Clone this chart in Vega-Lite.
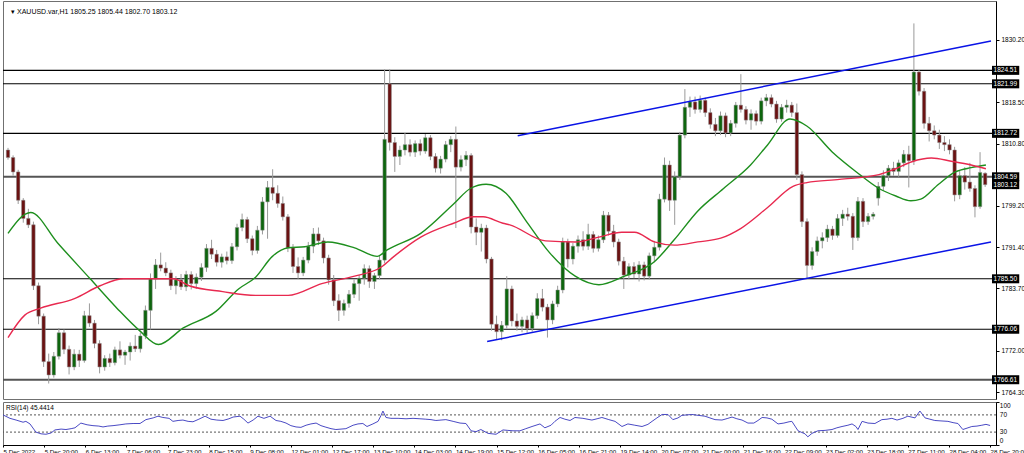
{
  "$schema": "https://vega.github.io/schema/vega-lite/v6.json",
  "padding": 0,
  "spacing": 1,
  "background": "white",
  "config": {
    "view": {"stroke": "#707070", "strokeWidth": 1},
    "font": "Liberation Sans",
    "axis": {"labelFont": "Liberation Sans", "labelFontSize": 6.5, "labelColor": "#000000", "tickColor": "#000000", "domainColor": "#000000", "grid": false, "title": null}
  },
  "datasets": {
    "levels": [{"p": 1824.51}, {"p": 1821.99}, {"p": 1812.72}, {"p": 1804.59}, {"p": 1785.50}, {"p": 1776.06}, {"p": 1766.61}],
    "tags": [{"p": 1824.51}, {"p": 1821.99}, {"p": 1812.72}, {"p": 1804.59}, {"p": 1803.12}, {"p": 1785.50}, {"p": 1776.06}, {"p": 1766.61}],
    "rsiscale": [{"v": 100}, {"v": 70}, {"v": 30}, {"v": 0}],
    "trend": [
      {"id": "upper", "b": 200.3, "p": 1812.28}, {"id": "upper", "b": 386.3, "p": 1830.0},
      {"id": "lower", "b": 188.3, "p": 1773.78}, {"id": "lower", "b": 386.3, "p": 1792.4}
    ],
    "ma": [
      {"s": "fast", "b": 0, "p": 1794.0}, {"s": "fast", "b": 8.9, "p": 1797.9}, {"s": "fast", "b": 19.5, "p": 1792.2}, {"s": "fast", "b": 32.3, "p": 1785.5}, {"s": "fast", "b": 42.8, "p": 1780.0}, {"s": "fast", "b": 51.7, "p": 1775.8}, {"s": "fast", "b": 59.1, "p": 1773.2}, {"s": "fast", "b": 68.9, "p": 1776.3}, {"s": "fast", "b": 81.7, "p": 1779.4}, {"s": "fast", "b": 90.6, "p": 1783.6}, {"s": "fast", "b": 97.3, "p": 1785.8}, {"s": "fast", "b": 103.9, "p": 1789.7}, {"s": "fast", "b": 110.1, "p": 1791.3}, {"s": "fast", "b": 116.7, "p": 1791.5}, {"s": "fast", "b": 125.7, "p": 1792.4}, {"s": "fast", "b": 136.2, "p": 1791.3}, {"s": "fast", "b": 145.1, "p": 1789.7}, {"s": "fast", "b": 149, "p": 1790.9}, {"s": "fast", "b": 162.2, "p": 1794.0}, {"s": "fast", "b": 175.1, "p": 1799.5}, {"s": "fast", "b": 181.7, "p": 1802.4}, {"s": "fast", "b": 187.9, "p": 1803.2}, {"s": "fast", "b": 195.7, "p": 1801.5}, {"s": "fast", "b": 203.5, "p": 1796.4}, {"s": "fast", "b": 212.8, "p": 1790.4}, {"s": "fast", "b": 222.9, "p": 1786.0}, {"s": "fast", "b": 232.2, "p": 1784.4}, {"s": "fast", "b": 242.3, "p": 1786.0}, {"s": "fast", "b": 254, "p": 1788.7}, {"s": "fast", "b": 261.8, "p": 1792.8}, {"s": "fast", "b": 271.1, "p": 1798.2}, {"s": "fast", "b": 281.2, "p": 1802.4}, {"s": "fast", "b": 291.8, "p": 1806.8}, {"s": "fast", "b": 298.4, "p": 1810.5}, {"s": "fast", "b": 307.3, "p": 1815.4}, {"s": "fast", "b": 313.9, "p": 1814.1}, {"s": "fast", "b": 324, "p": 1809.2}, {"s": "fast", "b": 333.4, "p": 1805.5}, {"s": "fast", "b": 342.3, "p": 1802.4}, {"s": "fast", "b": 348.9, "p": 1801.0}, {"s": "fast", "b": 354.8, "p": 1800.1}, {"s": "fast", "b": 358.7, "p": 1800.4}, {"s": "fast", "b": 365.7, "p": 1803.2}, {"s": "fast", "b": 372.3, "p": 1805.5}, {"s": "fast", "b": 378.5, "p": 1806.3}, {"s": "fast", "b": 384.3, "p": 1806.8},
      {"s": "slow", "b": 0, "p": 1774.5}, {"s": "slow", "b": 6.6, "p": 1778.7}, {"s": "slow", "b": 12.8, "p": 1780.0}, {"s": "slow", "b": 26.1, "p": 1781.8}, {"s": "slow", "b": 36.2, "p": 1784.2}, {"s": "slow", "b": 45.5, "p": 1785.5}, {"s": "slow", "b": 65, "p": 1785.5}, {"s": "slow", "b": 71.2, "p": 1784.2}, {"s": "slow", "b": 84.4, "p": 1783.1}, {"s": "slow", "b": 97.3, "p": 1782.4}, {"s": "slow", "b": 110.1, "p": 1782.4}, {"s": "slow", "b": 123.3, "p": 1784.6}, {"s": "slow", "b": 136.2, "p": 1786.0}, {"s": "slow", "b": 146.7, "p": 1787.7}, {"s": "slow", "b": 151.7, "p": 1789.7}, {"s": "slow", "b": 162.2, "p": 1793.3}, {"s": "slow", "b": 175.1, "p": 1795.9}, {"s": "slow", "b": 182.8, "p": 1797.1}, {"s": "slow", "b": 186.7, "p": 1797.1}, {"s": "slow", "b": 194.5, "p": 1795.9}, {"s": "slow", "b": 197.2, "p": 1795.6}, {"s": "slow", "b": 211.2, "p": 1792.6}, {"s": "slow", "b": 222.9, "p": 1792.4}, {"s": "slow", "b": 232.2, "p": 1793.3}, {"s": "slow", "b": 241.2, "p": 1794.2}, {"s": "slow", "b": 246.2, "p": 1794.2}, {"s": "slow", "b": 254, "p": 1792.4}, {"s": "slow", "b": 261.8, "p": 1791.8}, {"s": "slow", "b": 271.1, "p": 1792.4}, {"s": "slow", "b": 280.1, "p": 1793.1}, {"s": "slow", "b": 287.9, "p": 1794.9}, {"s": "slow", "b": 298.4, "p": 1798.8}, {"s": "slow", "b": 308.5, "p": 1802.8}, {"s": "slow", "b": 313.9, "p": 1803.5}, {"s": "slow", "b": 326.8, "p": 1804.1}, {"s": "slow", "b": 342.3, "p": 1805.0}, {"s": "slow", "b": 348.9, "p": 1806.1}, {"s": "slow", "b": 355.2, "p": 1807.4}, {"s": "slow", "b": 362.9, "p": 1808.1}, {"s": "slow", "b": 370.7, "p": 1807.5}, {"s": "slow", "b": 378.5, "p": 1806.8}, {"s": "slow", "b": 384.3, "p": 1806.1}
    ],
    "candles": [
      {"b": 0, "o": 1809.6, "h": 1810.0, "l": 1807.8, "c": 1808.2},
      {"b": 2, "o": 1808.2, "h": 1808.6, "l": 1804.8, "c": 1805.5},
      {"b": 4, "o": 1805.5, "h": 1805.9, "l": 1799.5, "c": 1800.2},
      {"b": 6, "o": 1800.2, "h": 1800.6, "l": 1796.0, "c": 1796.8},
      {"b": 8, "o": 1796.8, "h": 1798.6, "l": 1795.0, "c": 1795.6},
      {"b": 10, "o": 1795.6, "h": 1796.2, "l": 1783.4, "c": 1784.2},
      {"b": 12, "o": 1784.2, "h": 1784.8, "l": 1777.0, "c": 1778.5},
      {"b": 14, "o": 1778.5, "h": 1779.0, "l": 1769.0, "c": 1770.0},
      {"b": 16, "o": 1770.0, "h": 1771.5, "l": 1765.9, "c": 1767.5},
      {"b": 18, "o": 1767.5, "h": 1771.8, "l": 1767.0, "c": 1771.0},
      {"b": 20, "o": 1771.0, "h": 1776.3, "l": 1770.4, "c": 1775.4},
      {"b": 22, "o": 1775.4, "h": 1776.0, "l": 1771.4, "c": 1772.3},
      {"b": 24, "o": 1772.3, "h": 1773.0, "l": 1767.6, "c": 1769.0},
      {"b": 26, "o": 1769.0, "h": 1772.3, "l": 1768.4, "c": 1771.4},
      {"b": 28, "o": 1771.4, "h": 1772.2, "l": 1769.0, "c": 1770.2},
      {"b": 30, "o": 1770.2, "h": 1779.5, "l": 1769.8, "c": 1778.6},
      {"b": 32, "o": 1778.6, "h": 1780.9, "l": 1776.5, "c": 1777.2},
      {"b": 34, "o": 1777.2, "h": 1777.8, "l": 1772.5, "c": 1773.4},
      {"b": 36, "o": 1773.4, "h": 1774.0, "l": 1767.8, "c": 1769.0},
      {"b": 38, "o": 1769.0, "h": 1771.2, "l": 1768.3, "c": 1770.6},
      {"b": 40, "o": 1770.6, "h": 1771.5, "l": 1769.0, "c": 1769.8},
      {"b": 42, "o": 1769.8, "h": 1772.8, "l": 1769.3, "c": 1772.2},
      {"b": 44, "o": 1772.2, "h": 1773.8, "l": 1770.6, "c": 1771.2},
      {"b": 46, "o": 1771.2, "h": 1772.2, "l": 1769.4, "c": 1771.8},
      {"b": 48, "o": 1771.8, "h": 1773.6, "l": 1770.2, "c": 1772.9},
      {"b": 50, "o": 1772.9, "h": 1775.0, "l": 1771.8, "c": 1772.4},
      {"b": 52, "o": 1772.4, "h": 1775.4, "l": 1771.7, "c": 1774.8},
      {"b": 54, "o": 1774.8, "h": 1780.5, "l": 1774.2, "c": 1779.6},
      {"b": 56, "o": 1779.6, "h": 1786.5, "l": 1776.0, "c": 1785.5},
      {"b": 58, "o": 1785.5, "h": 1789.2, "l": 1783.6, "c": 1788.1},
      {"b": 60, "o": 1788.1, "h": 1790.4, "l": 1786.9, "c": 1787.5},
      {"b": 62, "o": 1787.5, "h": 1788.6, "l": 1786.0, "c": 1786.6},
      {"b": 64, "o": 1786.6, "h": 1787.2, "l": 1783.4, "c": 1784.2},
      {"b": 66, "o": 1784.2, "h": 1786.0, "l": 1782.6, "c": 1785.3},
      {"b": 68, "o": 1785.3, "h": 1786.4, "l": 1783.4, "c": 1784.0},
      {"b": 70, "o": 1784.0, "h": 1787.0, "l": 1783.2, "c": 1786.3},
      {"b": 72, "o": 1786.3, "h": 1786.9, "l": 1783.5, "c": 1784.6},
      {"b": 74, "o": 1784.6, "h": 1786.5, "l": 1783.6, "c": 1785.8},
      {"b": 76, "o": 1785.8, "h": 1788.4, "l": 1785.1, "c": 1787.6},
      {"b": 78, "o": 1787.6, "h": 1792.0, "l": 1786.8, "c": 1791.2},
      {"b": 80, "o": 1791.2, "h": 1792.8, "l": 1789.2, "c": 1790.1},
      {"b": 82, "o": 1790.1, "h": 1790.9, "l": 1787.8, "c": 1788.6},
      {"b": 84, "o": 1788.6, "h": 1790.2, "l": 1787.6, "c": 1789.6},
      {"b": 86, "o": 1789.6, "h": 1790.6, "l": 1788.2, "c": 1788.9},
      {"b": 88, "o": 1788.9, "h": 1792.2, "l": 1788.3, "c": 1791.5},
      {"b": 90, "o": 1791.5, "h": 1795.8, "l": 1790.8, "c": 1795.1},
      {"b": 92, "o": 1795.1, "h": 1797.7, "l": 1794.4, "c": 1796.6},
      {"b": 94, "o": 1796.6, "h": 1797.1, "l": 1792.2, "c": 1793.0},
      {"b": 96, "o": 1793.0, "h": 1793.6, "l": 1789.9, "c": 1790.8},
      {"b": 98, "o": 1790.8, "h": 1795.4, "l": 1790.2, "c": 1794.6},
      {"b": 100, "o": 1794.6, "h": 1800.8, "l": 1793.8, "c": 1799.9},
      {"b": 102, "o": 1799.9, "h": 1803.8, "l": 1793.0, "c": 1802.6},
      {"b": 104, "o": 1802.6, "h": 1806.0, "l": 1800.2, "c": 1801.5},
      {"b": 106, "o": 1801.5, "h": 1803.0, "l": 1798.8, "c": 1799.6},
      {"b": 108, "o": 1799.6, "h": 1800.9, "l": 1796.4, "c": 1797.1},
      {"b": 110, "o": 1797.1, "h": 1797.6, "l": 1790.5, "c": 1791.3},
      {"b": 112, "o": 1791.3, "h": 1792.0, "l": 1786.6, "c": 1787.8},
      {"b": 114, "o": 1787.8, "h": 1789.5, "l": 1785.5, "c": 1786.6},
      {"b": 116, "o": 1786.6, "h": 1789.6, "l": 1786.0, "c": 1789.0},
      {"b": 118, "o": 1789.0, "h": 1792.4, "l": 1788.4, "c": 1791.6},
      {"b": 120, "o": 1791.6, "h": 1795.0, "l": 1790.3, "c": 1793.9},
      {"b": 122, "o": 1793.9, "h": 1795.1, "l": 1791.8, "c": 1792.6},
      {"b": 124, "o": 1792.6, "h": 1793.2, "l": 1788.4, "c": 1789.4},
      {"b": 126, "o": 1789.4, "h": 1790.0, "l": 1784.4, "c": 1785.3},
      {"b": 128, "o": 1785.3, "h": 1786.2, "l": 1780.4, "c": 1781.4},
      {"b": 130, "o": 1781.4, "h": 1782.6, "l": 1777.6, "c": 1779.6},
      {"b": 132, "o": 1779.6, "h": 1781.6, "l": 1778.6, "c": 1780.9},
      {"b": 134, "o": 1780.9, "h": 1783.4, "l": 1780.1, "c": 1782.6},
      {"b": 136, "o": 1782.6, "h": 1785.4, "l": 1781.9, "c": 1784.6},
      {"b": 138, "o": 1784.6, "h": 1786.2, "l": 1781.4, "c": 1785.6},
      {"b": 140, "o": 1785.6, "h": 1788.2, "l": 1784.4, "c": 1787.4},
      {"b": 142, "o": 1787.4, "h": 1788.0, "l": 1783.8, "c": 1785.0},
      {"b": 144, "o": 1785.0, "h": 1786.6, "l": 1783.6, "c": 1786.1},
      {"b": 146, "o": 1786.1, "h": 1789.8, "l": 1785.4, "c": 1789.0},
      {"b": 148, "o": 1789.0, "h": 1824.7, "l": 1788.4, "c": 1811.6},
      {"b": 150, "o": 1822.0, "h": 1824.7, "l": 1809.5, "c": 1811.0},
      {"b": 152, "o": 1811.0, "h": 1812.0, "l": 1805.5, "c": 1808.4},
      {"b": 154, "o": 1808.4, "h": 1810.4, "l": 1806.8, "c": 1809.6},
      {"b": 156, "o": 1809.6, "h": 1812.8, "l": 1808.6, "c": 1810.6},
      {"b": 158, "o": 1810.6, "h": 1811.6, "l": 1808.4, "c": 1809.2},
      {"b": 160, "o": 1809.2, "h": 1811.4, "l": 1808.3, "c": 1810.8},
      {"b": 162, "o": 1810.8, "h": 1811.6, "l": 1808.6, "c": 1809.4},
      {"b": 164, "o": 1809.4, "h": 1812.6, "l": 1808.9, "c": 1811.9},
      {"b": 166, "o": 1811.9, "h": 1812.4, "l": 1807.7, "c": 1808.4},
      {"b": 168, "o": 1808.4, "h": 1809.0, "l": 1805.4, "c": 1806.2},
      {"b": 170, "o": 1806.2, "h": 1808.5, "l": 1805.2, "c": 1807.9},
      {"b": 172, "o": 1807.9, "h": 1811.3, "l": 1807.3, "c": 1810.6},
      {"b": 174, "o": 1810.6, "h": 1812.2, "l": 1809.2, "c": 1811.6},
      {"b": 176, "o": 1811.6, "h": 1814.0, "l": 1795.0, "c": 1806.4},
      {"b": 178, "o": 1806.4, "h": 1808.6, "l": 1805.6, "c": 1807.8},
      {"b": 180, "o": 1807.8, "h": 1809.4, "l": 1806.6, "c": 1808.6},
      {"b": 182, "o": 1808.6, "h": 1809.0, "l": 1794.0, "c": 1795.2},
      {"b": 184, "o": 1795.2, "h": 1796.8, "l": 1791.8, "c": 1794.2},
      {"b": 186, "o": 1794.2, "h": 1795.8, "l": 1790.6, "c": 1795.0},
      {"b": 188, "o": 1795.0, "h": 1795.6, "l": 1788.4, "c": 1789.2},
      {"b": 190, "o": 1789.2, "h": 1789.6, "l": 1775.8, "c": 1777.0},
      {"b": 192, "o": 1777.0, "h": 1778.6, "l": 1774.2, "c": 1775.6},
      {"b": 194, "o": 1775.6, "h": 1777.6, "l": 1774.0, "c": 1776.8},
      {"b": 196, "o": 1776.8, "h": 1786.0, "l": 1776.2, "c": 1783.6},
      {"b": 198, "o": 1783.6, "h": 1784.2, "l": 1776.6, "c": 1777.6},
      {"b": 200, "o": 1777.6, "h": 1779.0, "l": 1775.8, "c": 1776.6},
      {"b": 202, "o": 1776.6, "h": 1778.4, "l": 1775.5, "c": 1777.8},
      {"b": 204, "o": 1777.8, "h": 1778.6, "l": 1775.4, "c": 1776.2},
      {"b": 206, "o": 1776.2, "h": 1779.2, "l": 1775.6, "c": 1778.6},
      {"b": 208, "o": 1778.6, "h": 1782.8, "l": 1778.0, "c": 1781.8},
      {"b": 210, "o": 1781.8, "h": 1783.6, "l": 1779.4, "c": 1780.2},
      {"b": 212, "o": 1780.2, "h": 1780.8, "l": 1774.5, "c": 1777.8},
      {"b": 214, "o": 1777.8, "h": 1781.4, "l": 1777.0, "c": 1780.8},
      {"b": 216, "o": 1780.8, "h": 1784.2, "l": 1780.2, "c": 1783.4},
      {"b": 218, "o": 1783.4, "h": 1793.2, "l": 1782.8, "c": 1792.4},
      {"b": 220, "o": 1792.4, "h": 1793.0, "l": 1787.6, "c": 1789.2},
      {"b": 222, "o": 1789.2, "h": 1792.2, "l": 1788.2, "c": 1791.6},
      {"b": 224, "o": 1791.6, "h": 1793.6, "l": 1790.4, "c": 1792.8},
      {"b": 226, "o": 1792.8, "h": 1794.4, "l": 1790.8, "c": 1791.6},
      {"b": 228, "o": 1791.6, "h": 1795.8, "l": 1790.9, "c": 1793.8},
      {"b": 230, "o": 1793.8, "h": 1794.4, "l": 1790.4, "c": 1791.2},
      {"b": 232, "o": 1791.2, "h": 1793.6, "l": 1790.6, "c": 1792.8},
      {"b": 234, "o": 1792.8, "h": 1798.2, "l": 1792.2, "c": 1797.4},
      {"b": 236, "o": 1797.4, "h": 1798.0, "l": 1793.6, "c": 1794.4},
      {"b": 238, "o": 1794.4, "h": 1795.6, "l": 1791.4, "c": 1792.4},
      {"b": 240, "o": 1792.4, "h": 1793.0, "l": 1788.0, "c": 1788.8},
      {"b": 242, "o": 1788.8, "h": 1789.6, "l": 1783.6, "c": 1786.2},
      {"b": 244, "o": 1786.2, "h": 1788.4, "l": 1785.4, "c": 1787.8},
      {"b": 246, "o": 1787.8, "h": 1788.6, "l": 1785.6, "c": 1786.4},
      {"b": 248, "o": 1786.4, "h": 1788.8, "l": 1785.0, "c": 1788.1},
      {"b": 250, "o": 1788.1, "h": 1788.7, "l": 1785.2, "c": 1786.0},
      {"b": 252, "o": 1786.0, "h": 1790.4, "l": 1785.4, "c": 1789.8},
      {"b": 254, "o": 1789.8, "h": 1792.6, "l": 1788.6, "c": 1791.4},
      {"b": 256, "o": 1791.4, "h": 1801.4, "l": 1790.8, "c": 1800.4},
      {"b": 258, "o": 1800.4, "h": 1808.2, "l": 1799.8, "c": 1806.8},
      {"b": 260, "o": 1806.8, "h": 1807.6, "l": 1798.2, "c": 1800.2},
      {"b": 262, "o": 1800.2, "h": 1805.6, "l": 1795.6, "c": 1804.6},
      {"b": 264, "o": 1804.6, "h": 1813.0, "l": 1804.0, "c": 1812.4},
      {"b": 266, "o": 1812.4, "h": 1821.0, "l": 1811.8, "c": 1817.6},
      {"b": 268, "o": 1817.6, "h": 1819.6, "l": 1815.8, "c": 1818.6},
      {"b": 270, "o": 1818.6, "h": 1819.6, "l": 1816.4, "c": 1817.2},
      {"b": 272, "o": 1817.2, "h": 1819.8, "l": 1816.6, "c": 1818.9},
      {"b": 274, "o": 1818.9, "h": 1819.4, "l": 1815.8, "c": 1816.6},
      {"b": 276, "o": 1816.6, "h": 1817.4, "l": 1813.6, "c": 1814.4},
      {"b": 278, "o": 1814.4, "h": 1815.6, "l": 1812.2, "c": 1813.2},
      {"b": 280, "o": 1813.2, "h": 1816.8, "l": 1812.4, "c": 1816.0},
      {"b": 282, "o": 1816.0, "h": 1816.6, "l": 1812.0, "c": 1812.8},
      {"b": 284, "o": 1812.8, "h": 1815.2, "l": 1812.2, "c": 1814.6},
      {"b": 286, "o": 1814.6, "h": 1818.6, "l": 1813.8, "c": 1818.0},
      {"b": 288, "o": 1818.0, "h": 1823.8, "l": 1816.6, "c": 1817.2},
      {"b": 290, "o": 1817.2, "h": 1817.8, "l": 1814.4, "c": 1815.2},
      {"b": 292, "o": 1815.2, "h": 1817.2, "l": 1813.4, "c": 1816.4},
      {"b": 294, "o": 1816.4, "h": 1817.0, "l": 1814.2, "c": 1815.0},
      {"b": 296, "o": 1815.0, "h": 1819.4, "l": 1814.4, "c": 1818.8},
      {"b": 298, "o": 1818.8, "h": 1820.1, "l": 1817.8, "c": 1819.4},
      {"b": 300, "o": 1819.4, "h": 1820.0, "l": 1817.6, "c": 1818.2},
      {"b": 302, "o": 1818.2, "h": 1818.8, "l": 1814.7, "c": 1815.4},
      {"b": 304, "o": 1815.4, "h": 1818.2, "l": 1814.9, "c": 1817.6},
      {"b": 306, "o": 1817.6, "h": 1819.0, "l": 1816.6, "c": 1818.0},
      {"b": 308, "o": 1818.0, "h": 1818.6, "l": 1815.8, "c": 1816.6},
      {"b": 310, "o": 1816.6, "h": 1818.3, "l": 1804.0, "c": 1805.0},
      {"b": 312, "o": 1805.0, "h": 1805.6, "l": 1795.2, "c": 1796.2},
      {"b": 314, "o": 1796.2, "h": 1796.8, "l": 1785.5, "c": 1788.0},
      {"b": 316, "o": 1788.0, "h": 1791.4, "l": 1787.2, "c": 1790.6},
      {"b": 318, "o": 1790.6, "h": 1793.4, "l": 1789.8, "c": 1792.6},
      {"b": 320, "o": 1792.6, "h": 1794.2, "l": 1791.2, "c": 1793.2},
      {"b": 322, "o": 1793.2, "h": 1795.6, "l": 1792.4, "c": 1794.8},
      {"b": 324, "o": 1794.8, "h": 1795.4, "l": 1792.8, "c": 1793.6},
      {"b": 326, "o": 1793.6, "h": 1797.6, "l": 1793.2, "c": 1796.8},
      {"b": 328, "o": 1796.8, "h": 1798.4, "l": 1795.4, "c": 1797.6},
      {"b": 330, "o": 1797.6, "h": 1798.8, "l": 1796.4, "c": 1797.2},
      {"b": 332, "o": 1797.2, "h": 1797.8, "l": 1790.9, "c": 1793.2},
      {"b": 334, "o": 1793.2, "h": 1800.8, "l": 1792.6, "c": 1800.0},
      {"b": 336, "o": 1800.0, "h": 1800.6, "l": 1795.2, "c": 1796.2},
      {"b": 338, "o": 1796.2, "h": 1797.8, "l": 1795.6, "c": 1797.2},
      {"b": 340, "o": 1797.2, "h": 1798.0, "l": 1796.6, "c": 1797.6},
      {"b": 342, "o": 1800.6, "h": 1803.6, "l": 1799.2, "c": 1802.8},
      {"b": 344, "o": 1802.8, "h": 1805.8, "l": 1802.0, "c": 1804.8},
      {"b": 346, "o": 1804.8, "h": 1806.8, "l": 1803.8, "c": 1806.2},
      {"b": 348, "o": 1806.2, "h": 1807.4, "l": 1804.8, "c": 1805.6},
      {"b": 350, "o": 1805.6, "h": 1807.8, "l": 1804.6, "c": 1807.2},
      {"b": 352, "o": 1807.2, "h": 1809.6, "l": 1806.4, "c": 1808.8},
      {"b": 354, "o": 1808.8, "h": 1810.4, "l": 1802.6, "c": 1807.6},
      {"b": 356, "o": 1807.6, "h": 1833.3, "l": 1806.8, "c": 1824.2},
      {"b": 358, "o": 1824.2, "h": 1824.6, "l": 1819.8, "c": 1820.6},
      {"b": 360, "o": 1820.6, "h": 1821.2, "l": 1813.6, "c": 1814.6},
      {"b": 362, "o": 1814.6, "h": 1815.8, "l": 1811.2, "c": 1813.2},
      {"b": 364, "o": 1813.2, "h": 1814.2, "l": 1811.6, "c": 1812.4},
      {"b": 366, "o": 1812.4, "h": 1813.4, "l": 1809.8, "c": 1811.0},
      {"b": 368, "o": 1811.0, "h": 1812.2, "l": 1809.4, "c": 1810.6},
      {"b": 370, "o": 1810.6, "h": 1811.6, "l": 1808.8, "c": 1809.6},
      {"b": 372, "o": 1809.6, "h": 1810.2, "l": 1800.0, "c": 1801.2},
      {"b": 374, "o": 1801.2, "h": 1805.8, "l": 1800.4, "c": 1804.8},
      {"b": 376, "o": 1804.8, "h": 1806.4, "l": 1802.2, "c": 1803.6},
      {"b": 378, "o": 1803.6, "h": 1807.2, "l": 1801.8, "c": 1802.4},
      {"b": 380, "o": 1802.4, "h": 1803.0, "l": 1797.0, "c": 1799.0},
      {"b": 382, "o": 1799.0, "h": 1809.2, "l": 1798.6, "c": 1805.4},
      {"b": 384, "o": 1805.25, "h": 1805.44, "l": 1802.70, "c": 1803.12}
    ],
    "rsi": [
      {"b": 0, "v": 70}, {"b": 2.7, "v": 62}, {"b": 5.1, "v": 58}, {"b": 7.8, "v": 53}, {"b": 8.9, "v": 55}, {"b": 10.5, "v": 49}, {"b": 12.8, "v": 30}, {"b": 14.8, "v": 26}, {"b": 16.7, "v": 25}, {"b": 18.7, "v": 28}, {"b": 20.2, "v": 35}, {"b": 22.6, "v": 37}, {"b": 24.5, "v": 36}, {"b": 26.5, "v": 38}, {"b": 28, "v": 40}, {"b": 30.3, "v": 51}, {"b": 32.7, "v": 47}, {"b": 35, "v": 45}, {"b": 37.3, "v": 44}, {"b": 38.9, "v": 42}, {"b": 40.8, "v": 44}, {"b": 42.8, "v": 45}, {"b": 45.5, "v": 47}, {"b": 47.8, "v": 49}, {"b": 50.6, "v": 50}, {"b": 53.3, "v": 50}, {"b": 55.6, "v": 59}, {"b": 58.4, "v": 63}, {"b": 60.3, "v": 67}, {"b": 62.2, "v": 64}, {"b": 64.6, "v": 62}, {"b": 66.1, "v": 55}, {"b": 68.1, "v": 57}, {"b": 70, "v": 58}, {"b": 72, "v": 55}, {"b": 73.9, "v": 54}, {"b": 76.2, "v": 60}, {"b": 78.6, "v": 67}, {"b": 80.9, "v": 60}, {"b": 83.2, "v": 58}, {"b": 85.6, "v": 57}, {"b": 87.9, "v": 61}, {"b": 89.5, "v": 65}, {"b": 92.2, "v": 67}, {"b": 93.7, "v": 60}, {"b": 95.3, "v": 51}, {"b": 97.3, "v": 58}, {"b": 99.2, "v": 67}, {"b": 101.5, "v": 62}, {"b": 103.9, "v": 67}, {"b": 106.2, "v": 57}, {"b": 108.1, "v": 55}, {"b": 110.1, "v": 51}, {"b": 112, "v": 45}, {"b": 114, "v": 42}, {"b": 115.9, "v": 41}, {"b": 117.9, "v": 46}, {"b": 119.8, "v": 49}, {"b": 121.8, "v": 51}, {"b": 123.7, "v": 45}, {"b": 125.3, "v": 42}, {"b": 127.6, "v": 38}, {"b": 129.5, "v": 36}, {"b": 131.5, "v": 37}, {"b": 133.4, "v": 38}, {"b": 136.2, "v": 46}, {"b": 138.1, "v": 49}, {"b": 140, "v": 50}, {"b": 141.6, "v": 43}, {"b": 143.9, "v": 49}, {"b": 145.9, "v": 55}, {"b": 147, "v": 68}, {"b": 147.8, "v": 79}, {"b": 149, "v": 64}, {"b": 150.9, "v": 62}, {"b": 153.7, "v": 62}, {"b": 156.8, "v": 61}, {"b": 159.5, "v": 62}, {"b": 162.2, "v": 61}, {"b": 164.5, "v": 60}, {"b": 166.5, "v": 59}, {"b": 168.4, "v": 57}, {"b": 170.4, "v": 58}, {"b": 172.3, "v": 59}, {"b": 175.1, "v": 55}, {"b": 177.8, "v": 51}, {"b": 180.1, "v": 50}, {"b": 182.1, "v": 33}, {"b": 184, "v": 31}, {"b": 185.9, "v": 36}, {"b": 188.7, "v": 27}, {"b": 191.8, "v": 25}, {"b": 194.5, "v": 35}, {"b": 196.4, "v": 34}, {"b": 198.4, "v": 33}, {"b": 201.1, "v": 33}, {"b": 203.4, "v": 38}, {"b": 205.8, "v": 43}, {"b": 208.9, "v": 49}, {"b": 210.8, "v": 40}, {"b": 213.2, "v": 46}, {"b": 214.7, "v": 55}, {"b": 216.7, "v": 64}, {"b": 218.6, "v": 60}, {"b": 220.6, "v": 57}, {"b": 222.5, "v": 64}, {"b": 225.6, "v": 62}, {"b": 229.1, "v": 58}, {"b": 231.1, "v": 61}, {"b": 233, "v": 64}, {"b": 235.7, "v": 59}, {"b": 238.1, "v": 55}, {"b": 240.8, "v": 43}, {"b": 243.1, "v": 49}, {"b": 245.8, "v": 46}, {"b": 248.6, "v": 43}, {"b": 250.9, "v": 48}, {"b": 252.5, "v": 55}, {"b": 254.4, "v": 63}, {"b": 256.4, "v": 71}, {"b": 258.7, "v": 71}, {"b": 260.6, "v": 59}, {"b": 262.6, "v": 63}, {"b": 264.1, "v": 69}, {"b": 268, "v": 71}, {"b": 270.4, "v": 69}, {"b": 273.1, "v": 67}, {"b": 275, "v": 63}, {"b": 277, "v": 59}, {"b": 279.7, "v": 58}, {"b": 282, "v": 62}, {"b": 283.6, "v": 65}, {"b": 285.5, "v": 61}, {"b": 287.5, "v": 58}, {"b": 289.8, "v": 51}, {"b": 292.1, "v": 51}, {"b": 293.7, "v": 57}, {"b": 295.3, "v": 64}, {"b": 297.2, "v": 63}, {"b": 299.1, "v": 60}, {"b": 301.5, "v": 49}, {"b": 303.8, "v": 51}, {"b": 305.8, "v": 54}, {"b": 306.9, "v": 55}, {"b": 308.1, "v": 44}, {"b": 309.3, "v": 33}, {"b": 310.8, "v": 29}, {"b": 312, "v": 26}, {"b": 313.1, "v": 19}, {"b": 314.7, "v": 27}, {"b": 317, "v": 33}, {"b": 319.8, "v": 34}, {"b": 322.5, "v": 36}, {"b": 324.4, "v": 40}, {"b": 326.4, "v": 43}, {"b": 328.7, "v": 46}, {"b": 330.3, "v": 49}, {"b": 331.8, "v": 43}, {"b": 332.6, "v": 36}, {"b": 334.2, "v": 55}, {"b": 336.5, "v": 51}, {"b": 339.2, "v": 50}, {"b": 341.9, "v": 59}, {"b": 343.9, "v": 60}, {"b": 345.8, "v": 62}, {"b": 347.8, "v": 58}, {"b": 350.1, "v": 62}, {"b": 352, "v": 67}, {"b": 354.8, "v": 63}, {"b": 356.7, "v": 79}, {"b": 358.7, "v": 63}, {"b": 360.6, "v": 60}, {"b": 362.5, "v": 57}, {"b": 364.9, "v": 56}, {"b": 367.6, "v": 55}, {"b": 369.6, "v": 52}, {"b": 371.5, "v": 50}, {"b": 373.4, "v": 36}, {"b": 375.4, "v": 40}, {"b": 376.9, "v": 43}, {"b": 378.9, "v": 44}, {"b": 380.8, "v": 46}, {"b": 382.4, "v": 48}, {"b": 384, "v": 45.4}
    ]
  },
  "vconcat": [
    {
      "width": 993,
      "height": 398,
      "layer": [
        {
          "data": {"name": "levels"},
          "mark": {"type": "rule", "color": "#000000"},
          "encoding": {
            "y": {"field": "p", "type": "quantitative", "scale": {"domain": [1763.94, 1836.555], "nice": false, "zero": false},
              "axis": {"orient": "right", "values": [1834.0, 1830.2, 1826.3, 1818.5, 1814.7, 1810.8, 1806.9, 1799.2, 1795.3, 1791.4, 1787.5, 1783.7, 1779.8, 1772.0, 1768.2, 1764.3], "format": ".2f", "tickSize": 3, "labelPadding": 2, "labelFontSize": 6.5, "labelColor": "#000000", "labelOverlap": false}},
            "strokeWidth": {"condition": {"test": "datum.p == 1804.59 || datum.p == 1766.61", "value": 2}, "value": 1.1},
            "color": {"condition": {"test": "datum.p == 1804.59 || datum.p == 1766.61", "value": "#555555"}, "value": "#000000"}
          }
        },
        {
          "data": {"name": "candles"},
          "mark": {"type": "rule", "color": "#9a9a9a", "strokeWidth": 1},
          "encoding": {
            "x": {"field": "b", "type": "quantitative", "scale": {"domain": [0, 386.3], "nice": false, "zero": false}, "axis": null},
            "y": {"field": "l", "type": "quantitative", "scale": {"domain": [1763.94, 1836.555], "nice": false, "zero": false}},
            "y2": {"field": "h"}
          }
        },
        {
          "data": {"name": "candles"},
          "mark": {"type": "bar", "width": 3.4, "stroke": "#8c8c8c", "strokeWidth": 0.5},
          "encoding": {
            "x": {"field": "b", "type": "quantitative", "scale": {"domain": [0, 386.3], "nice": false, "zero": false}, "axis": null},
            "y": {"field": "o", "type": "quantitative", "scale": {"domain": [1763.94, 1836.555], "nice": false, "zero": false}},
            "y2": {"field": "c"},
            "color": {"condition": {"test": "datum.c >= datum.o", "value": "#0d650d"}, "value": "#6a1212"}
          }
        },
        {
          "data": {"name": "ma"},
          "mark": {"type": "line", "strokeWidth": 1.4, "interpolate": "monotone"},
          "encoding": {
            "x": {"field": "b", "type": "quantitative", "scale": {"domain": [0, 386.3], "nice": false, "zero": false}, "axis": null},
            "y": {"field": "p", "type": "quantitative", "scale": {"domain": [1763.94, 1836.555], "nice": false, "zero": false}},
            "color": {"field": "s", "type": "nominal", "scale": {"domain": ["fast", "slow"], "range": ["#1e8f1e", "#e8294f"]}, "legend": null}
          }
        },
        {
          "data": {"name": "trend"},
          "mark": {"type": "line", "strokeWidth": 1.5, "color": "#0a14e6"},
          "encoding": {
            "x": {"field": "b", "type": "quantitative", "scale": {"domain": [0, 386.3], "nice": false, "zero": false}, "axis": null},
            "y": {"field": "p", "type": "quantitative", "scale": {"domain": [1763.94, 1836.555], "nice": false, "zero": false}},
            "detail": {"field": "id"}
          }
        },
        {
          "data": {"name": "tags"},
          "mark": {"type": "bar", "height": 9, "color": "#000000"},
          "encoding": {
            "x": {"datum": 386.7, "type": "quantitative", "scale": {"domain": [0, 386.3], "nice": false, "zero": false}},
            "x2": {"datum": 397.4},
            "y": {"field": "p", "type": "quantitative", "scale": {"domain": [1763.94, 1836.555], "nice": false, "zero": false}}
          }
        },
        {
          "data": {"name": "tags"},
          "mark": {"type": "text", "color": "#ffffff", "fontSize": 6.5, "align": "left", "baseline": "middle", "font": "Liberation Sans"},
          "encoding": {
            "x": {"datum": 387.3, "type": "quantitative", "scale": {"domain": [0, 386.3], "nice": false, "zero": false}},
            "y": {"field": "p", "type": "quantitative", "scale": {"domain": [1763.94, 1836.555], "nice": false, "zero": false}},
            "text": {"field": "p", "type": "quantitative", "format": ".2f"}
          }
        },
        {
          "data": {"values": [{"t": "▾ XAUUSD.var,H1  1805.25 1805.44 1802.70 1803.12"}]},
          "mark": {"type": "text", "color": "#000000", "fontSize": 7, "align": "left", "baseline": "middle", "font": "Liberation Sans"},
          "encoding": {
            "x": {"datum": 1.2, "type": "quantitative", "scale": {"domain": [0, 386.3], "nice": false, "zero": false}},
            "y": {"datum": 1835.4, "type": "quantitative", "scale": {"domain": [1763.94, 1836.555], "nice": false, "zero": false}},
            "text": {"field": "t"}
          }
        }
      ]
    },
    {
      "width": 993,
      "height": 43,
      "layer": [
        {
          "data": {"values": [{"v": 30}, {"v": 70}]},
          "mark": {"type": "rule", "color": "#555555", "strokeDash": [2, 2], "strokeWidth": 1},
          "encoding": {
            "y": {"field": "v", "type": "quantitative", "scale": {"domain": [0, 100], "nice": false}}
          }
        },
        {
          "data": {"name": "rsi"},
          "mark": {"type": "line", "color": "#4a4ac4", "strokeWidth": 1},
          "encoding": {
            "x": {"field": "b", "type": "quantitative", "scale": {"domain": [0, 386.3], "nice": false, "zero": false},
              "axis": {"orient": "bottom", "values": [0, 16, 32, 48, 64, 80, 96, 112, 128, 144, 160, 176, 192, 208, 224, 240, 256, 272, 288, 304, 320, 336, 352, 368, 384],
                "labelExpr": "['5 Dec 2022','5 Dec 20:00','6 Dec 13:00','7 Dec 06:00','7 Dec 23:00','8 Dec 15:00','9 Dec 08:00','12 Dec 01:00','12 Dec 17:00','13 Dec 10:00','14 Dec 03:00','14 Dec 19:00','15 Dec 12:00','16 Dec 05:00','16 Dec 21:00','19 Dec 14:00','20 Dec 07:00','21 Dec 00:00','21 Dec 16:00','22 Dec 09:00','23 Dec 02:00','23 Dec 18:00','27 Dec 11:00','28 Dec 04:00','28 Dec 20:00'][round(datum.value/16)]",
                "labelAlign": "left", "labelPadding": 1, "tickSize": 2, "labelOverlap": false, "labelBound": false, "labelFlush": false, "labelFontSize": 6.2}},
            "y": {"field": "v", "type": "quantitative", "scale": {"domain": [0, 100], "nice": false},
              "axis": {"orient": "right", "values": [0, 30, 70, 100], "labels": false, "tickSize": 3}}
          }
        },
        {
          "data": {"name": "rsiscale"},
          "mark": {"type": "text", "color": "#000000", "fontSize": 6.5, "align": "left", "baseline": "middle", "font": "Liberation Sans"},
          "transform": [{"filter": "datum.v == 70 || datum.v == 30"}],
          "encoding": {
            "x": {"datum": 387.8, "type": "quantitative", "scale": {"domain": [0, 386.3], "nice": false, "zero": false}},
            "y": {"field": "v", "type": "quantitative", "scale": {"domain": [0, 100], "nice": false}},
            "text": {"field": "v", "type": "quantitative"}
          }
        },
        {
          "data": {"name": "rsiscale"},
          "mark": {"type": "text", "color": "#000000", "fontSize": 6.5, "align": "left", "baseline": "top", "dy": 1, "font": "Liberation Sans"},
          "transform": [{"filter": "datum.v == 100"}],
          "encoding": {
            "x": {"datum": 387.8, "type": "quantitative", "scale": {"domain": [0, 386.3], "nice": false, "zero": false}},
            "y": {"field": "v", "type": "quantitative", "scale": {"domain": [0, 100], "nice": false}},
            "text": {"field": "v", "type": "quantitative"}
          }
        },
        {
          "data": {"name": "rsiscale"},
          "mark": {"type": "text", "color": "#000000", "fontSize": 6.5, "align": "left", "baseline": "bottom", "dy": -1, "font": "Liberation Sans"},
          "transform": [{"filter": "datum.v == 0"}],
          "encoding": {
            "x": {"datum": 387.8, "type": "quantitative", "scale": {"domain": [0, 386.3], "nice": false, "zero": false}},
            "y": {"field": "v", "type": "quantitative", "scale": {"domain": [0, 100], "nice": false}},
            "text": {"field": "v", "type": "quantitative"}
          }
        },
        {
          "data": {"values": [{"t": "RSI(14) 45.4414"}]},
          "mark": {"type": "text", "color": "#000000", "fontSize": 6.5, "align": "left", "baseline": "middle", "font": "Liberation Sans"},
          "encoding": {
            "x": {"datum": 1.2, "type": "quantitative", "scale": {"domain": [0, 386.3], "nice": false, "zero": false}},
            "y": {"datum": 86, "type": "quantitative", "scale": {"domain": [0, 100], "nice": false}},
            "text": {"field": "t"}
          }
        }
      ]
    }
  ]
}
